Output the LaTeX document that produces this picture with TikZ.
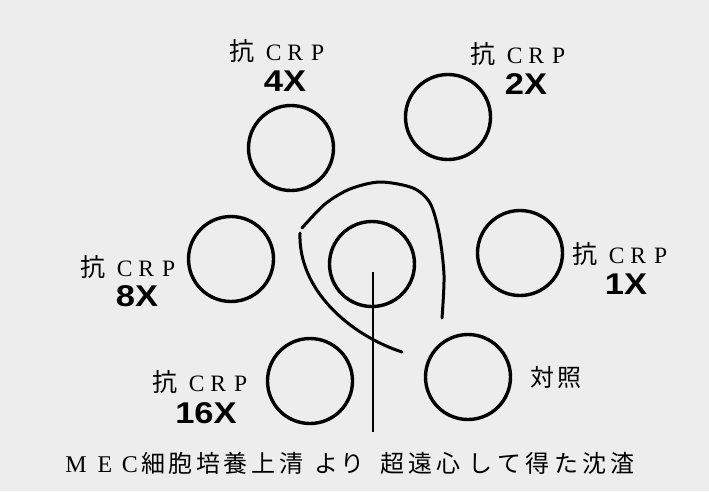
\documentclass[tikz,border=0pt]{standalone}
\usepackage{fontspec}
\setmainfont{Liberation Serif}
\newfontfamily\jpfont{Noto Sans CJK JP}
\newfontfamily\labsans{Liberation Sans}
\definecolor{paper}{gray}{0.93}
\newcommand\crplab{{\jpfont\fontsize{25}{25}\selectfont 抗}\kern 11pt C\kern 6pt R\kern 8pt P}
\newcommand\wide[1]{\scalebox{1.15}[1]{#1}}
\begin{document}
\begin{tikzpicture}[x=1pt,y=-1pt,
  well/.style={circle,draw,line width=3.4pt,minimum size=85pt,inner sep=0pt},
  crp/.style={font=\fontsize{23.5}{23.5}\selectfont,inner sep=0pt,anchor=base},
  dil/.style={font=\labsans\bfseries\fontsize{30}{30}\selectfont,inner sep=0pt,anchor=base},
  jp/.style={font=\jpfont\fontsize{24}{24}\selectfont,inner sep=0pt,anchor=base},
  lat/.style={font=\fontsize{24}{24}\selectfont,inner sep=0pt,anchor=base},
  precip/.style={line width=3pt,line cap=round}]
\fill[paper] (0,0) rectangle (709,491);
\useasboundingbox (0,0) rectangle (709,491);
% wells
\node[well] (w4) at (291,148) {};
\node[well] (w2) at (448,117) {};
\node[well] (w8) at (231,259) {};
\node[well] (w1) at (520,253) {};
\node[well] (w16) at (310,381) {};
\node[well] (wc) at (468,377) {};
\node[well] (wm) at (372,264) {};
% labels
\node[crp] (l4) at (277,60) {\crplab};
\node[dil] (d4) at (285,91) {\wide{4X}};
\node[crp] (l2) at (518,63) {\crplab};
\node[dil] (d2) at (526,94) {\wide{2X}};
\node[crp] (l8) at (128,276) {\crplab};
\node[dil] (d8) at (137,306) {\wide{8X}};
\node[crp] (l1) at (620,263) {\crplab};
\node[dil] (d1) at (626,294) {\wide{1X}};
\node[crp] (l16) at (200,391) {\crplab};
\node[dil] (d16) at (206,423) {\wide{16X}};
\node[jp] (ctl) at (556,386) {対\kern4pt 照};
% precipitation lines
\draw[precip] (300,233) .. controls (298,290) and (350,335) .. (402,352);
\draw[precip] plot[smooth] coordinates {(302,228) (325,204) (350,189) (380,182) (413,188) (430,203) (439,233) (444,275) (442,318)};
\coordinate (ls) at (373,272);
\coordinate (le) at (373,432);
\draw[line width=2.6pt] (ls) -- (le);
% caption
\foreach \ch/\x [count=\i] in {M/76,E/105,C/130}
  \node[lat] (b\i) at (\x,472) {\ch};
\foreach \ch/\x [count=\i] in {細/153,胞/180,培/208,養/235,上/263,清/291,よ/326,り/352,超/392,遠/420,心/448,し/480,て/509,得/537,た/566,沈/594,渣/622}
  \node[jp] (j\i) at (\x,472) {\ch};
\end{tikzpicture}
\end{document}
